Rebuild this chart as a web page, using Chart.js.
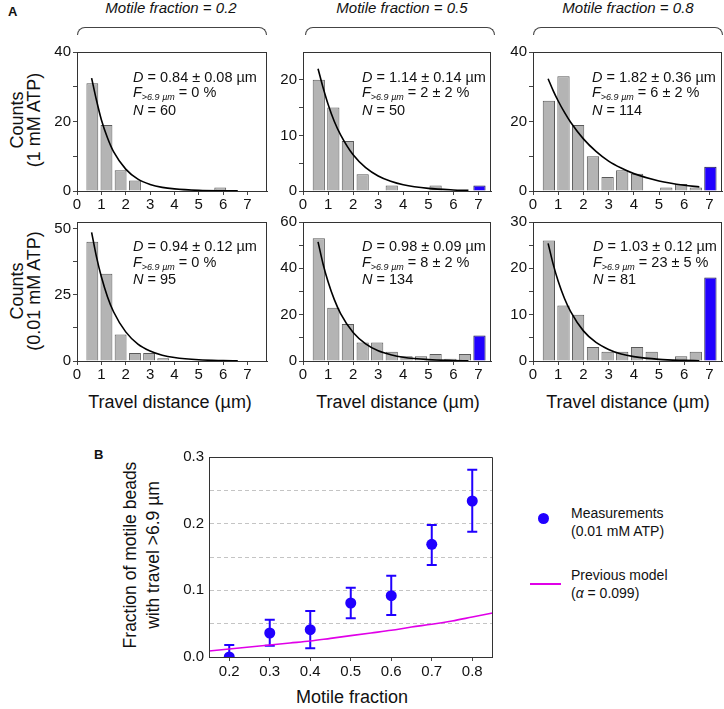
<!DOCTYPE html>
<html>
<head>
<meta charset="utf-8">
<script src="https://cdn.jsdelivr.net/npm/chart.js@4.4.1/dist/chart.umd.min.js"></script>
<style>
body { margin: 0; width: 724px; height: 709px; overflow: hidden; background: #fff; position: relative;
       font-family: 'Liberation Sans', Arial, sans-serif; color: #111; }
canvas { position: absolute; }
.t { position: absolute; white-space: nowrap; }
.title { font-size: 15px; font-style: italic; width: 200px; text-align: center; line-height: 16px; }
.brace { position: absolute; border: 1px solid #444; border-bottom: none; border-radius: 9px 9px 0 0; height: 7px; width: 188px; top: 27px; }
.box { position: absolute; border-top: 1px solid #333; border-right: 1px solid #333; pointer-events: none; }
.ann { font-size: 14.5px; line-height: 15.5px; }
.ann i { font-style: italic; }
.sub { font-size: 9px; font-style: italic; position: relative; top: 3px; }
.ylab { font-size: 18px; line-height: 17px; text-align: center; width: 150px; height: 34px; transform: rotate(-90deg); }
.xlab { font-size: 18px; line-height: 20px; text-align: center; width: 240px; }
.panel { font-size: 13px; font-weight: bold; }
.leg { font-size: 14px; line-height: 18px; }
</style>
</head>
<body>

<div class="t panel" style="left:8px; top:4px;">A</div>
<div class="t panel" style="left:94px; top:447px;">B</div>

<div class="t title" style="left:71px; top:0px;">Motile fraction = 0.2</div>
<div class="t title" style="left:302px; top:0px;">Motile fraction = 0.5</div>
<div class="t title" style="left:528px; top:0px;">Motile fraction = 0.8</div>
<div class="brace" style="left:77px;"></div>
<div class="brace" style="left:305px;"></div>
<div class="brace" style="left:533px;"></div>

<div class="t ylab" style="left:-49px; top:103px;">Counts<br>(1 mM ATP)</div>
<div class="t ylab" style="left:-49px; top:274px;">Counts<br>(0.01 mM ATP)</div>

<canvas id="c1" width="222" height="173" style="left:47px; top:40px;"></canvas>
<canvas id="c2" width="220" height="173" style="left:273px; top:40px;"></canvas>
<canvas id="c3" width="221" height="173" style="left:503px; top:40px;"></canvas>
<canvas id="c4" width="222" height="173" style="left:47px; top:210px;"></canvas>
<canvas id="c5" width="220" height="173" style="left:273px; top:210px;"></canvas>
<canvas id="c6" width="221" height="173" style="left:503px; top:210px;"></canvas>

<!-- top/right edges of the histogram boxes -->
<div class="box" style="left:77px; top:52px; width:189px; height:139px;"></div>
<div class="box" style="left:303px; top:52px; width:187px; height:139px;"></div>
<div class="box" style="left:533px; top:52px; width:188px; height:139px;"></div>
<div class="box" style="left:77px; top:222px; width:189px; height:139px;"></div>
<div class="box" style="left:303px; top:222px; width:187px; height:139px;"></div>
<div class="box" style="left:533px; top:222px; width:188px; height:139px;"></div>

<div class="t ann" style="left:133px; top:69.5px;"><i>D</i> = 0.84 ± 0.08 µm<br><i>F</i><span class="sub">&gt;6.9 µm</span> = 0 %<br><i>N</i> = 60</div>
<div class="t ann" style="left:362px; top:69.5px;"><i>D</i> = 1.14 ± 0.14 µm<br><i>F</i><span class="sub">&gt;6.9 µm</span> = 2 ± 2 %<br><i>N</i> = 50</div>
<div class="t ann" style="left:592px; top:69.5px;"><i>D</i> = 1.82 ± 0.36 µm<br><i>F</i><span class="sub">&gt;6.9 µm</span> = 6 ± 2 %<br><i>N</i> = 114</div>
<div class="t ann" style="left:133px; top:239px;"><i>D</i> = 0.94 ± 0.12 µm<br><i>F</i><span class="sub">&gt;6.9 µm</span> = 0 %<br><i>N</i> = 95</div>
<div class="t ann" style="left:362px; top:239px;"><i>D</i> = 0.98 ± 0.09 µm<br><i>F</i><span class="sub">&gt;6.9 µm</span> = 8 ± 2 %<br><i>N</i> = 134</div>
<div class="t ann" style="left:593px; top:239px;"><i>D</i> = 1.03 ± 0.12 µm<br><i>F</i><span class="sub">&gt;6.9 µm</span> = 23 ± 5 %<br><i>N</i> = 81</div>

<div class="t xlab" style="left:50px; top:392px;">Travel distance (µm)</div>
<div class="t xlab" style="left:278px; top:392px;">Travel distance (µm)</div>
<div class="t xlab" style="left:508px; top:392px;">Travel distance (µm)</div>

<div class="t" style="left:22px; top:532px; width:240px; height:46px; font-size:17.5px; line-height:23px; text-align:center; transform:rotate(-90deg);">Fraction of motile beads<br>with travel &gt;6.9 µm</div>
<canvas id="cB" width="325" height="238" style="left:173px; top:443px;"></canvas>
<div class="t xlab" style="left:232px; top:687px;">Motile fraction</div>

<div class="t" style="left:537.5px; top:512.5px; width:11px; height:11px; border-radius:50%; background:#2000ff;"></div>
<div class="t leg" style="left:571px; top:504px;">Measurements<br>(0.01 mM ATP)</div>
<div class="t" style="left:530px; top:583px; width:31px; height:2px; background:#e000e8;"></div>
<div class="t leg" style="left:571px; top:566px;">Previous model<br>(<i>α</i> = 0.099)</div>

<script>
// histogram bins (µm): regular bins and the >6.9 µm bin
const binCenters = [0.63, 1.21, 1.79, 2.38, 2.96, 3.54, 4.13, 4.71, 5.29, 5.88, 6.46];
const overflowX = 7.04;
const xTicks = [0, 1, 2, 3, 4, 5, 6, 7];

// counts at 1 mM ATP
const counts1mM_02 = [31, 19, 6, 3, 0, 0, 0, 0, 0, 1, 0];
const over1mM_02 = 0;
const counts1mM_05 = [20, 15, 9, 3, 0, 1, 0, 0, 1, 0, 0];
const over1mM_05 = 1;
const counts1mM_08 = [26, 33, 19, 10, 4, 6, 5, 0, 1, 2, 1];
const over1mM_08 = 7;

// counts at 0.01 mM ATP
const counts001_02 = [45, 33, 10, 3, 3, 1, 0, 0, 0, 0, 0];
const over001_02 = 0;
const counts001_05 = [53, 23, 16, 8, 8, 4, 2, 2, 3, 1, 3];
const over001_05 = 11;
const counts001_08 = [26, 12, 10, 3, 2, 2, 3, 2, 0, 1, 2];
const over001_08 = 18;

// exponential fits
const fitX = [0.6, 0.8, 1.0, 1.25, 1.5, 2.0, 2.5, 3.0, 3.5, 4.0, 5.0, 6.0, 6.6];
const fit1mM_02 = [32.5, 26.1, 20.5, 15.3, 11.3, 6.3, 3.4, 1.9, 1.05, 0.6, 0.18, 0.05, 0.03];
const fit1mM_05 = [22.0, 18.6, 15.6, 12.5, 10.1, 6.5, 4.2, 2.7, 1.74, 1.12, 0.47, 0.19, 0.11];
const fit1mM_08 = [32.3, 28.9, 25.9, 22.6, 19.7, 15.0, 11.4, 8.6, 6.6, 5.0, 2.9, 1.66, 1.2];
const fit001_02 = [48.6, 39.3, 31.8, 24.3, 18.6, 11.0, 6.4, 3.8, 2.2, 1.3, 0.45, 0.16, 0.08];
const fit001_05 = [51.4, 41.9, 34.2, 26.5, 20.5, 12.3, 7.4, 4.4, 2.7, 1.6, 0.58, 0.21, 0.11];
const fit001_08 = [25.4, 20.9, 17.2, 13.5, 10.6, 6.5, 4.0, 2.5, 1.5, 0.94, 0.36, 0.14, 0.07];

// panel B
const motileFraction = [0.2, 0.3, 0.4, 0.5, 0.6, 0.7, 0.8];
const fracLong = [0.0, 0.036, 0.041, 0.081, 0.092, 0.169, 0.234];
const errLow = [0.0, 0.017, 0.013, 0.058, 0.063, 0.138, 0.188];
const errHigh = [0.018, 0.056, 0.069, 0.104, 0.122, 0.198, 0.281];
const modelX = [0.15, 0.2, 0.25, 0.3, 0.35, 0.4, 0.45, 0.5, 0.55, 0.6, 0.65, 0.7, 0.75, 0.8, 0.85];
const modelY = [0.009, 0.012, 0.015, 0.018, 0.021, 0.024, 0.028, 0.032, 0.036, 0.040, 0.045, 0.049, 0.054, 0.060, 0.066];
const xTicksB = [0.2, 0.3, 0.4, 0.5, 0.6, 0.7, 0.8];
const yTicksB = [0, 0.05, 0.1, 0.15, 0.2, 0.25, 0.3];
const yLabelsB = [0, 0.1, 0.2, 0.3];

const GRAY = '#b4b4b4';
const BLUE = '#2000ff';

Chart.defaults.font.family = "'Liberation Sans', Arial, sans-serif";
Chart.defaults.font.size = 15;
Chart.defaults.color = '#111';

// box around the plot area
const frame = {
    id: 'frame',
    afterDraw(chart) {
        const a = chart.chartArea;
        const ctx = chart.ctx;
        const l = Math.round(a.left) + 0.5, t = Math.round(a.top) + 0.5;
        const r = Math.round(a.right) - 0.5, b = Math.round(a.bottom) + 0.5;
        ctx.save();
        ctx.strokeStyle = '#333';
        ctx.lineWidth = 1;
        ctx.beginPath();
        ctx.moveTo(l, b);
        ctx.lineTo(l, t);
        ctx.lineTo(r, t);
        ctx.lineTo(r, b);
        ctx.stroke();
        ctx.restore();
    }
};

function makeHist(id, counts, overflow, fitY, xMax, yMax, yTicks, yLabels) {
    const bars = binCenters.map((x, i) => ({x: x, y: counts[i] || null}));
    bars.push({x: overflowX, y: overflow || null});

    new Chart(document.getElementById(id), {
        type: 'bar',
        data: {
            datasets: [{
                type: 'line',
                data: fitX.map((x, i) => ({x: x, y: fitY[i]})),
                borderColor: '#000',
                borderWidth: 1.6,
                pointRadius: 0,
                cubicInterpolationMode: 'monotone',
                order: 0
            }, {
                type: 'bar',
                data: bars,
                backgroundColor: bars.map((b, i) => i === binCenters.length ? BLUE : GRAY),
                borderColor: bars.map((b, i) => i === binCenters.length ? '#1a1a40' : '#5a5a5a'),
                borderWidth: 1,
                barPercentage: 0.84,
                categoryPercentage: 1,
                order: 1
            }]
        },
        plugins: [frame],
        options: {
            responsive: false,
            animation: false,
            layout: { padding: { top: 12, right: 2, left: 0, bottom: 0 } },
            plugins: { legend: { display: false }, tooltip: { enabled: false } },
            scales: {
                x: {
                    type: 'linear', min: 0, max: xMax, offset: false,
                    afterBuildTicks: s => { s.ticks = xTicks.map(v => ({value: v})); },
                    afterFit: s => { s.height = 22; },
                    ticks: { autoSkip: false, maxRotation: 0, padding: 1 },
                    grid: { offset: false, drawOnChartArea: false, tickLength: 4, tickColor: '#444' },
                    border: { color: '#333' }
                },
                y: {
                    min: 0, max: yMax,
                    afterBuildTicks: s => { s.ticks = yTicks.map(v => ({value: v})); },
                    afterFit: s => { s.width = 30; },
                    ticks: { autoSkip: false, padding: 2, callback: v => yLabels.includes(v) ? v : '' },
                    grid: { drawOnChartArea: false, tickLength: 4, tickColor: '#444' },
                    border: { color: '#333' }
                }
            }
        }
    });
}

makeHist('c1', counts1mM_02, over1mM_02, fit1mM_02, 7.8, 40, [0, 10, 20, 30, 40], [0, 20, 40]);
makeHist('c2', counts1mM_05, over1mM_05, fit1mM_05, 7.5, 25, [0, 5, 10, 15, 20], [0, 10, 20]);
makeHist('c3', counts1mM_08, over1mM_08, fit1mM_08, 7.5, 40, [0, 10, 20, 30, 40], [0, 20, 40]);
makeHist('c4', counts001_02, over001_02, fit001_02, 7.8, 52.5, [0, 12.5, 25, 37.5, 50], [0, 25, 50]);
makeHist('c5', counts001_05, over001_05, fit001_05, 7.5, 60, [0, 10, 20, 30, 40, 50, 60], [0, 20, 40, 60]);
makeHist('c6', counts001_08, over001_08, fit001_08, 7.5, 30, [0, 5, 10, 15, 20, 25, 30], [0, 10, 20, 30]);

// error bars for panel B
const errorBars = {
    id: 'errorBars',
    beforeDatasetsDraw(chart) {
        const xs = chart.scales.x, ys = chart.scales.y, ctx = chart.ctx;
        ctx.save();
        ctx.strokeStyle = BLUE;
        ctx.lineWidth = 2;
        motileFraction.forEach((m, i) => {
            const x = xs.getPixelForValue(m);
            const y1 = ys.getPixelForValue(errLow[i]);
            const y2 = ys.getPixelForValue(errHigh[i]);
            ctx.beginPath();
            ctx.moveTo(x, y1); ctx.lineTo(x, y2);
            ctx.moveTo(x - 5, y2); ctx.lineTo(x + 5, y2);
            if (errLow[i] > 0) { ctx.moveTo(x - 5, y1); ctx.lineTo(x + 5, y1); }
            ctx.stroke();
        });
        ctx.restore();
    }
};

new Chart(document.getElementById('cB'), {
    type: 'scatter',
    data: {
        datasets: [{
            type: 'line',
            data: modelX.map((x, i) => ({x: x, y: modelY[i]})),
            borderColor: '#e000e8',
            borderWidth: 1.6,
            pointRadius: 0,
            cubicInterpolationMode: 'monotone',
            order: 1
        }, {
            type: 'scatter',
            data: motileFraction.map((x, i) => ({x: x, y: fracLong[i]})),
            backgroundColor: BLUE,
            borderWidth: 0,
            pointRadius: 5.5,
            clip: 0,
            order: 0
        }]
    },
    plugins: [errorBars, frame],
    options: {
        responsive: false,
        animation: false,
        layout: { padding: { top: 14, right: 4, left: 0, bottom: 0 } },
        plugins: { legend: { display: false }, tooltip: { enabled: false } },
        scales: {
            x: {
                type: 'linear', min: 0.15, max: 0.85,
                afterBuildTicks: s => { s.ticks = xTicksB.map(v => ({value: v})); },
                afterFit: s => { s.height = 24; },
                ticks: { autoSkip: false, maxRotation: 0, padding: 2, callback: v => v.toFixed(1) },
                grid: { drawOnChartArea: false, tickLength: 4, tickColor: '#444' },
                border: { color: '#333' }
            },
            y: {
                min: 0, max: 0.3,
                afterBuildTicks: s => { s.ticks = yTicksB.map(v => ({value: v})); },
                afterFit: s => { s.width = 36; },
                ticks: { autoSkip: false, padding: 5, callback: v => yLabelsB.includes(v) ? v.toFixed(1) : '' },
                grid: {
                    drawTicks: false,
                    color: c => (c.index === 0 || c.index === yTicksB.length - 1) ? 'rgba(0,0,0,0)' : '#c4c4c4'
                },
                border: { color: '#333', dash: [4, 3] }
            }
        }
    }
});
</script>
</body>
</html>
